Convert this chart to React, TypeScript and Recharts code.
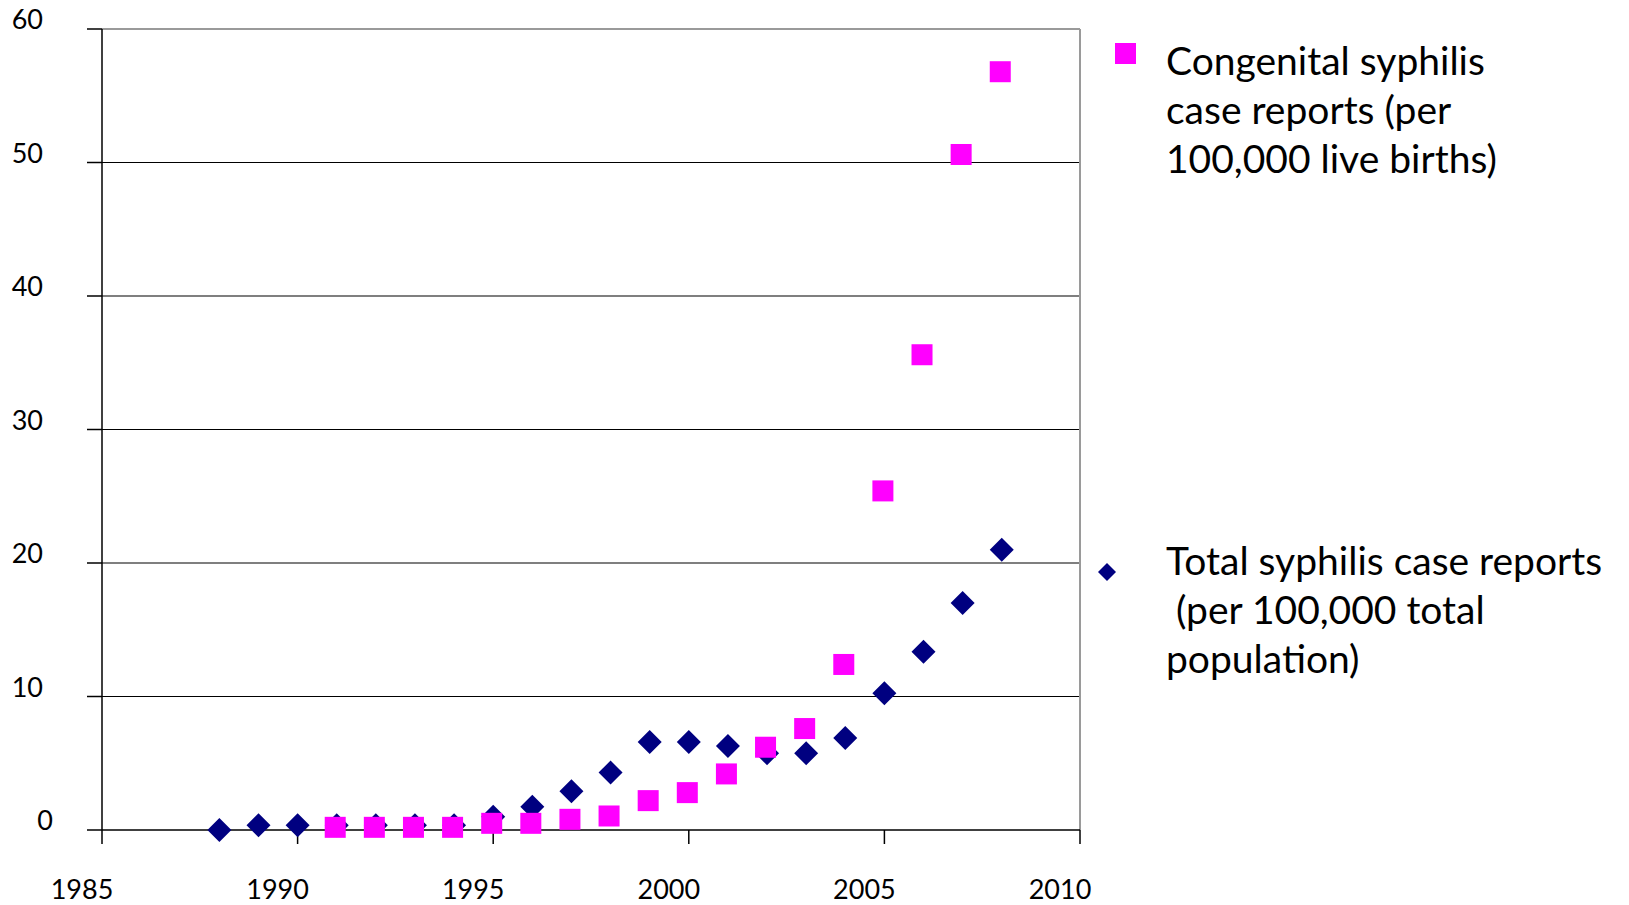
import React from 'react'
import {
  ScatterChart, Scatter, XAxis, YAxis, ReferenceLine
} from 'recharts'

const totalYears = [1988, 1989, 1990, 1991, 1992, 1993, 1994, 1995, 1996, 1997, 1998, 1999, 2000, 2001, 2002, 2003, 2004, 2005, 2006, 2007, 2008]
const totalRates = [0, 0.35, 0.35, 0.35, 0.35, 0.35, 0.35, 1.0, 1.75, 2.9, 4.3, 6.6, 6.6, 6.3, 5.75, 5.75, 6.9, 10.25, 13.35, 17.0, 21.0]

const congenitalYears = [1991, 1992, 1993, 1994, 1995, 1996, 1997, 1998, 1999, 2000, 2001, 2002, 2003, 2004, 2005, 2006, 2007, 2008]
const congenitalRates = [0.2, 0.2, 0.2, 0.2, 0.5, 0.5, 0.8, 1.05, 2.2, 2.8, 4.2, 6.2, 7.6, 12.4, 25.4, 35.6, 50.6, 56.8]

const xTicks = [1985, 1990, 1995, 2000, 2005, 2010]
const yTicks = [0, 10, 20, 30, 40, 50, 60]

const congenitalLabel = ['Congenital syphilis', 'case reports (per', '100,000 live births)']
const totalLabel = ['Total syphilis case reports', ' (per 100,000 total', 'population)']

const totalData = totalYears.map((year, i) => ({ year, rate: totalRates[i] }))
const congenitalData = congenitalYears.map((year, i) => ({ year, rate: congenitalRates[i] }))

const FONT = 'Lato, "Open Sans", sans-serif'
const PINK = '#FF00FF'
const NAVY = '#000080'

const Square = (props: any) => {
  const { cx, cy } = props
  return <rect x={cx - 12} y={cy - 10.5} width={21} height={21} fill={PINK} />
}

const Diamond = (props: any) => {
  const { cx, cy } = props
  const r = 12
  return <polygon points={`${cx},${cy - r} ${cx + r},${cy} ${cx},${cy + r} ${cx - r},${cy}`} fill={NAVY} />
}

const YTick = (props: any) => {
  const { x, y, payload } = props
  const shift = payload.value === 0 ? 10 : 0
  return (
    <text x={x - 42 + shift} y={y} textAnchor="end" fontSize={27} fontFamily={FONT} fill="#000">
      {payload.value}
    </text>
  )
}

const XTick = (props: any) => {
  const { x, y, payload } = props
  return (
    <text x={x - 20} y={y + 53} textAnchor="middle" fontSize={27} fontFamily={FONT} fill="#000">
      {payload.value}
    </text>
  )
}

const textStyle: React.CSSProperties = {
  position: 'absolute',
  left: 1166,
  fontFamily: FONT,
  fontSize: 39,
  lineHeight: '49px',
  whiteSpace: 'pre',
  color: '#000',
}

const LegendBox = () => (
  <div style={{ position: 'absolute', left: 0, top: 0, width: 1629, height: 905, pointerEvents: 'none' }}>
    <svg style={{ position: 'absolute', left: 1115, top: 43 }} width={21} height={21}>
      <rect x={0} y={0} width={21} height={21} fill={PINK} />
    </svg>
    <div style={{ ...textStyle, top: 36 }}>
      {congenitalLabel.map((line) => <div key={line}>{line}</div>)}
    </div>
    <svg style={{ position: 'absolute', left: 1098, top: 563 }} width={18} height={18}>
      <polygon points="9,0 18,9 9,18 0,9" fill={NAVY} />
    </svg>
    <div style={{ ...textStyle, top: 536 }}>
      {totalLabel.map((line) => <div key={line}>{line}</div>)}
    </div>
  </div>
)

export default function App() {
  return (
    <div style={{ position: 'absolute', left: 0, top: 0, width: 1629, height: 905, background: '#fff' }}>
      <ScatterChart width={1629} height={905} margin={{ top: 29, right: 549, bottom: 35, left: 0 }}>
        <XAxis
          type="number"
          dataKey="year"
          domain={[1985, 2010]}
          ticks={xTicks}
          interval={0}
          tick={<XTick />}
          tickSize={14}
          height={40}
          axisLine={{ stroke: '#000', strokeWidth: 1.5 }}
          tickLine={{ stroke: '#000', strokeWidth: 1.5 }}
          allowDecimals={false}
        />
        <YAxis
          type="number"
          dataKey="rate"
          domain={[0, 60]}
          ticks={yTicks}
          interval={0}
          tick={<YTick />}
          tickSize={15}
          width={102}
          axisLine={{ stroke: '#000', strokeWidth: 1.5 }}
          tickLine={{ stroke: '#000', strokeWidth: 1.5 }}
        />
        {yTicks.slice(1, -1).map((v) => (
          <ReferenceLine key={v} y={v} stroke="#000" strokeWidth={1.2} />
        ))}
        <ReferenceLine y={60} stroke="#9a9a9a" strokeWidth={2} />
        <ReferenceLine x={2010} stroke="#9a9a9a" strokeWidth={2} />
        <Scatter name="Total" data={totalData} shape={<Diamond />} isAnimationActive={false} />
        <Scatter name="Congenital" data={congenitalData} shape={<Square />} isAnimationActive={false} />
      </ScatterChart>
      <LegendBox />
    </div>
  )
}
